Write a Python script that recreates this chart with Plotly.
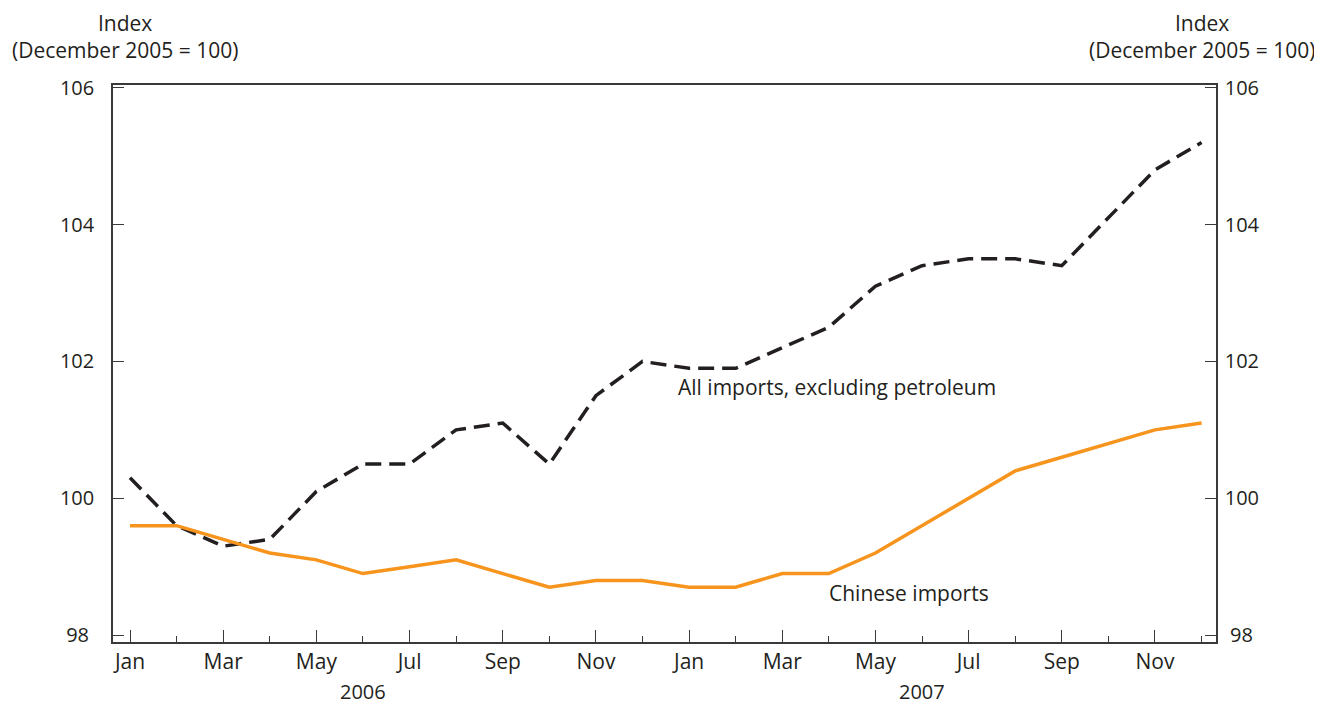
import plotly.graph_objects as go

months = ["Jan", "Feb", "Mar", "Apr", "May", "Jun", "Jul", "Aug", "Sep", "Oct", "Nov", "Dec"] * 2
years = ["2006"] * 12 + ["2007"] * 12
all_imports = [100.3, 99.6, 99.3, 99.4, 100.1, 100.5, 100.5, 101.0, 101.1, 100.5, 101.5, 102.0,
               101.9, 101.9, 102.2, 102.5, 103.1, 103.4, 103.5, 103.5, 103.4, 104.1, 104.8, 105.2]
chinese = [99.6, 99.6, 99.4, 99.2, 99.1, 98.9, 99.0, 99.1, 98.9, 98.7, 98.8, 98.8,
           98.7, 98.7, 98.9, 98.9, 99.2, 99.6, 100.0, 100.4, 100.6, 100.8, 101.0, 101.1]
y_ticks = [98, 100, 102, 104, 106]
axis_title = "Index<br>(December 2005 = 100)"
label_all = "All imports, excluding petroleum"
label_cn = "Chinese imports"

x = list(range(len(months)))
tickvals = [i for i in x if i % 2 == 0]
ticktext = [months[i] for i in tickvals]
# pad two-digit labels so labels look centred like the original
pad = "\u2008"
left_text = [str(v) + (pad if len(str(v)) < 3 else "") for v in y_ticks]
right_text = [(pad if len(str(v)) < 3 else "") + str(v) for v in y_ticks]

FONT = "Open Sans"
TXT = "#231f20"
AX = "#3a3a3a"

fig = go.Figure()
fig.add_trace(go.Scatter(x=x, y=all_imports, mode="lines",
                         line=dict(color="#231f20", width=3.5, dash="16px,8px"),
                         showlegend=False, hoverinfo="skip"))
fig.add_trace(go.Scatter(x=x, y=chinese, mode="lines",
                         line=dict(color="#f7941d", width=3.5),
                         showlegend=False, hoverinfo="skip"))
fig.add_trace(go.Scatter(x=[x[0]], y=[y_ticks[0]], yaxis="y2", mode="lines",
                         line=dict(width=0), showlegend=False, hoverinfo="skip"))

yr = [97.9, 106.04]
fig.update_layout(
    width=1314, height=698,
    margin=dict(l=105, r=106, t=77, b=64),
    paper_bgcolor="white", plot_bgcolor="white",
    font=dict(family=FONT, size=21, color=TXT),
    xaxis=dict(range=[-0.365, 23.31], tickmode="array", tickvals=tickvals, ticktext=ticktext,
               ticks="inside", ticklen=12, tickwidth=1.3, tickcolor=AX,
               minor=dict(tickmode="array", tickvals=x, ticks="inside", ticklen=6,
                          tickwidth=1.3, tickcolor=AX),
               showline=True, linecolor=AX, linewidth=1.5, mirror=True,
               showgrid=False, zeroline=False, ticklabelstandoff=0,
               tickfont=dict(size=21)),
    yaxis=dict(range=yr, tickmode="array", tickvals=y_ticks, ticktext=left_text,
               ticks="inside", ticklen=11, tickwidth=1.3,
               tickcolor=AX, showline=True, linecolor=AX, linewidth=1.5,
               showgrid=False, zeroline=False, ticklabelstandoff=13,
               tickfont=dict(size=20)),
    yaxis2=dict(range=yr, tickmode="array", tickvals=y_ticks, ticktext=right_text,
                ticks="inside", ticklen=11, tickwidth=1.3,
                tickcolor=AX, showline=True, linecolor=AX, linewidth=1.5, side="right",
                overlaying="y", showgrid=False, zeroline=False, ticklabelstandoff=3,
                tickfont=dict(size=20)),
)

for xi in (5, 17):
    fig.add_annotation(x=xi, y=0, xref="x", yref="paper", yshift=-49, yanchor="middle",
                       xanchor="center", text=years[xi], showarrow=False,
                       font=dict(size=20), borderpad=0)

for xp in ((125 - 113) / 1103, (1202 - 113) / 1103):
    fig.add_annotation(x=xp, y=(642 - 36) / 557, xref="paper", yref="paper", text=axis_title,
                       showarrow=False, xanchor="center", yanchor="middle")

fig.add_annotation(x=11.72, y=101.62, xref="x", yref="y", text=label_all,
                   showarrow=False, xanchor="left", yanchor="middle")
fig.add_annotation(x=14.95, y=98.62, xref="x", yref="y", text=label_cn,
                   showarrow=False, xanchor="left", yanchor="middle")

fig.write_html("out.html")
